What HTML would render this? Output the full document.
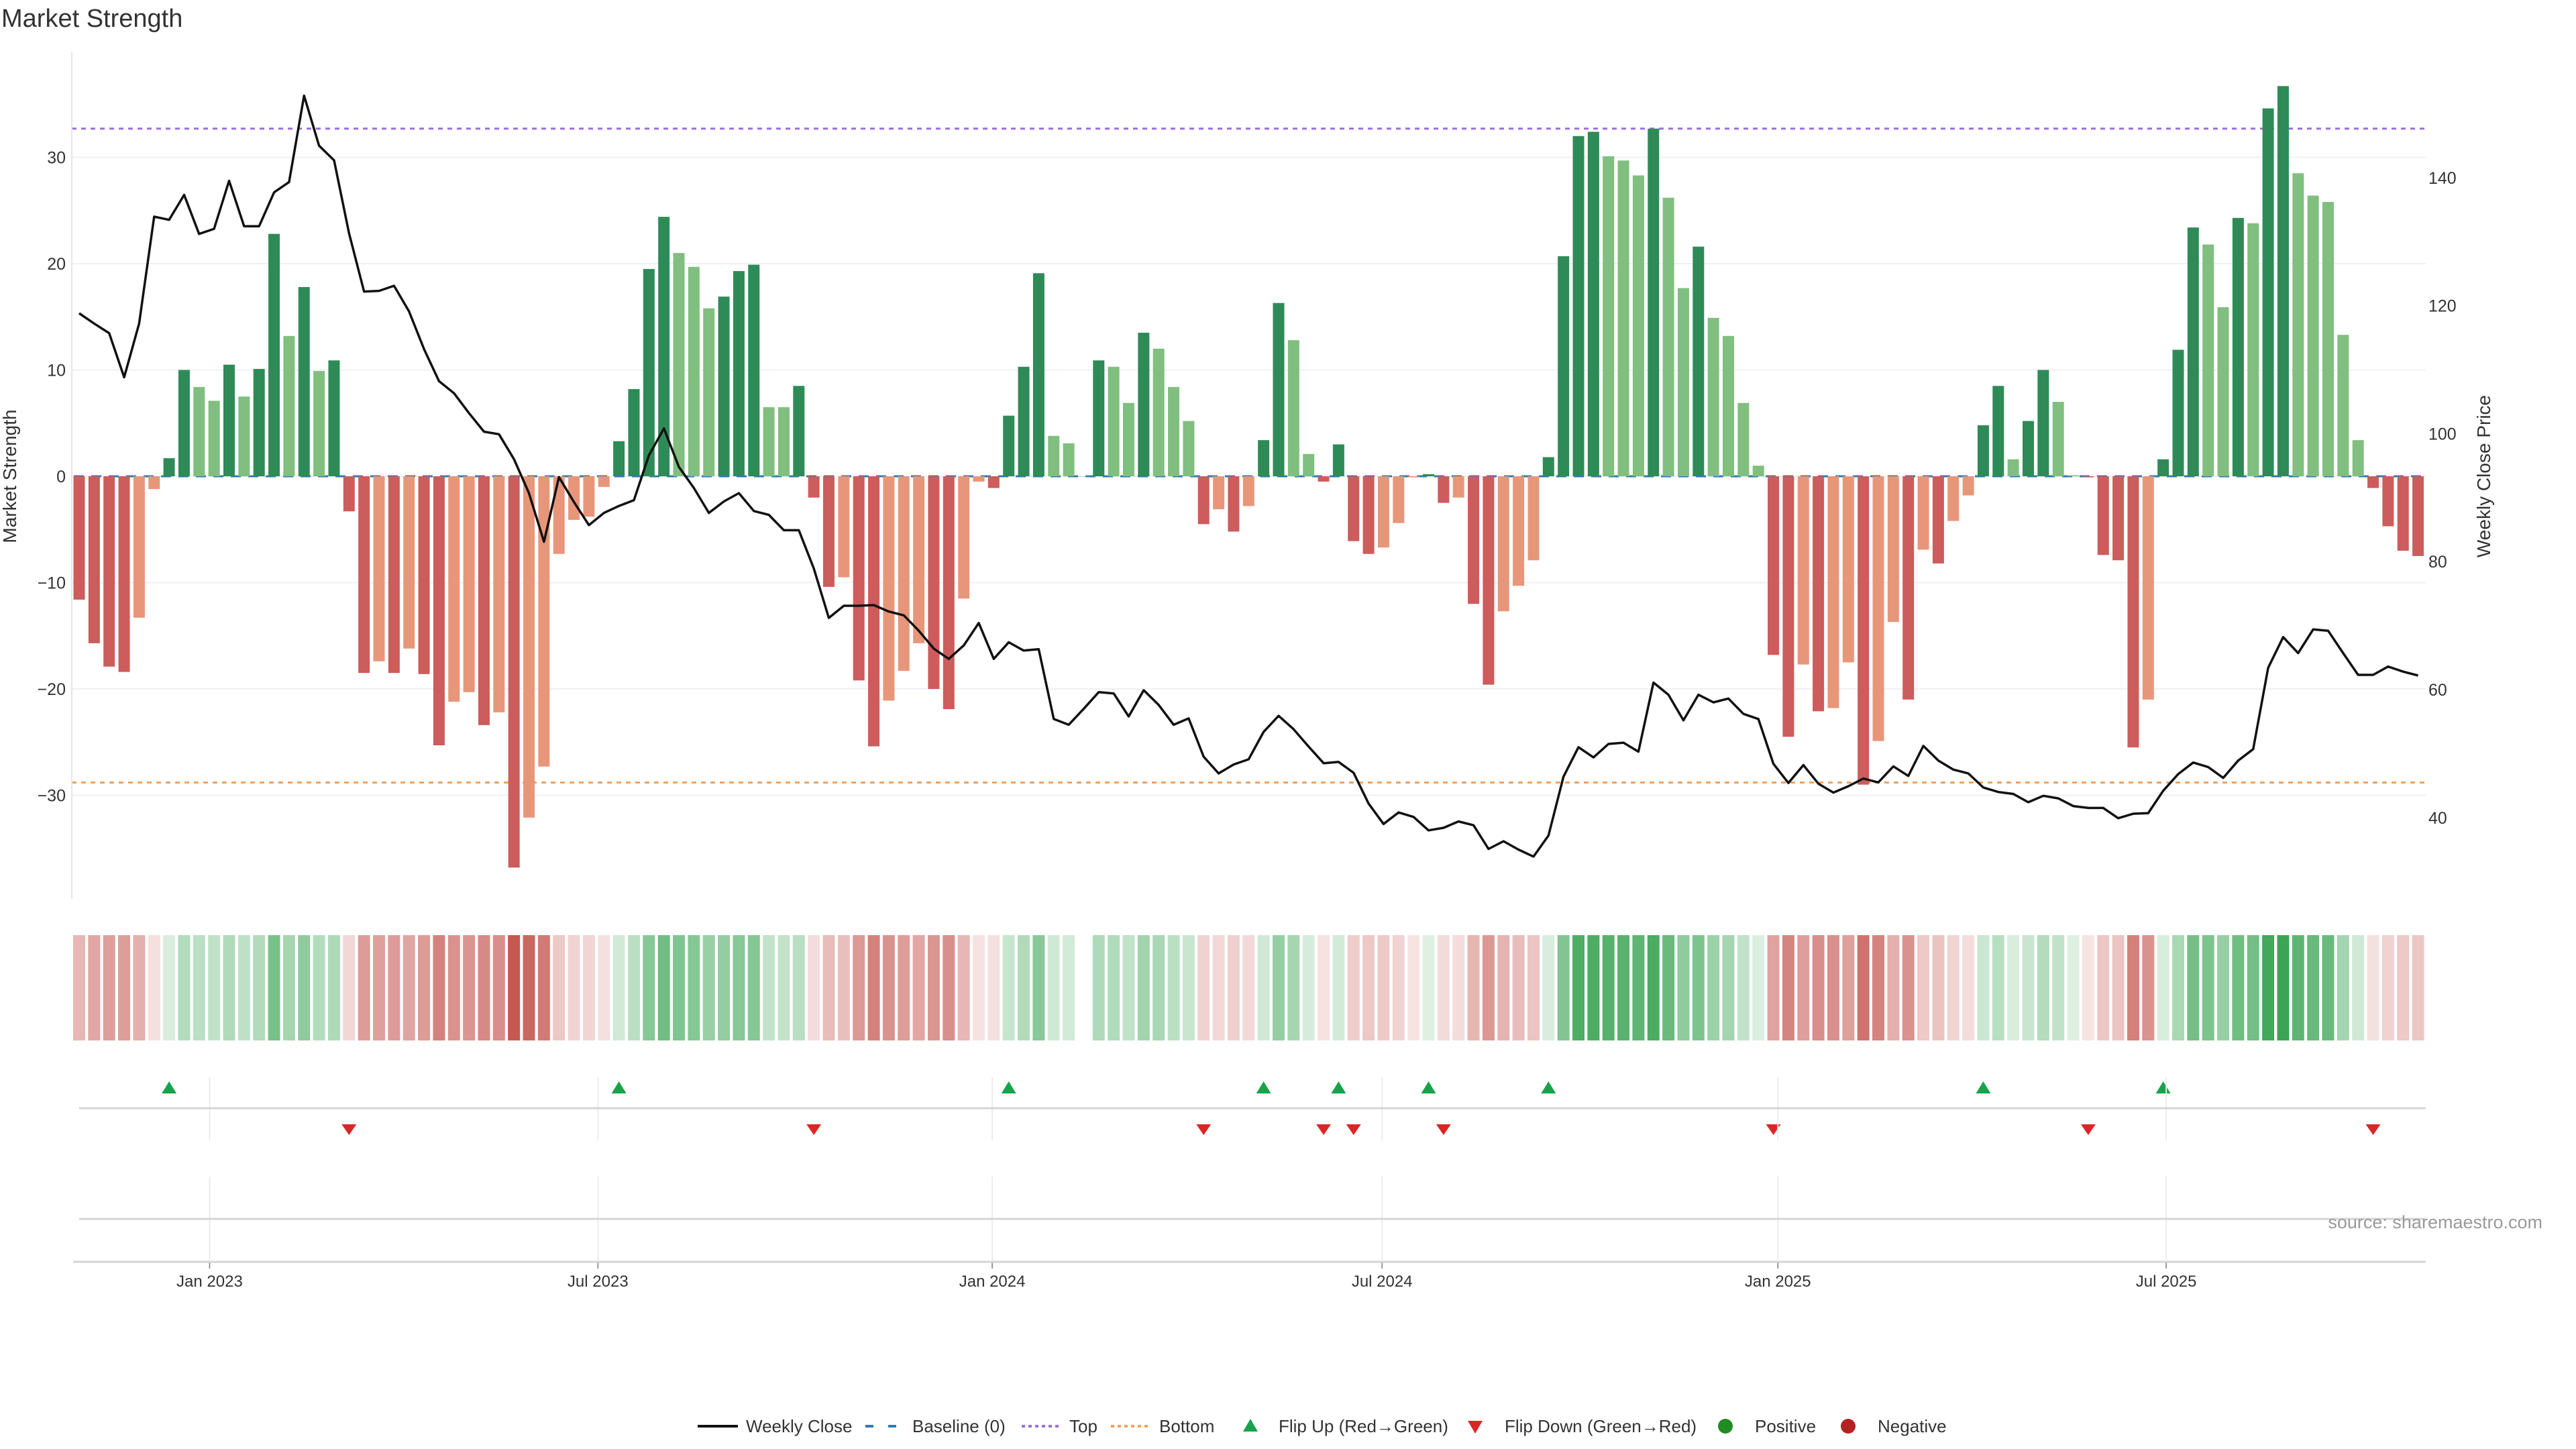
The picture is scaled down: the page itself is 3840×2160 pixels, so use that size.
<!DOCTYPE html>
<html><head><meta charset="utf-8"><title>Market Strength</title>
<style>
html,body{margin:0;padding:0;background:#fff;}
svg{display:block;font-family:"Liberation Sans","DejaVu Sans",sans-serif;}
</style></head>
<body>
<svg id="chart" width="3840" height="2160" viewBox="0 0 3840 2160" xmlns="http://www.w3.org/2000/svg">
<rect width="3840" height="2160" fill="#fff"/>
<text x="2" y="40" font-size="38" fill="#333">Market Strength</text>
<g id="grid"></g><g id="refs"></g><g id="bars"></g><g id="price"></g><g id="strip"></g><g id="flips"></g><g id="axes"></g>
<text transform="translate(24,710) rotate(-90)" text-anchor="middle" font-size="28" fill="#333">Market Strength</text>
<text transform="translate(3712,710) rotate(-90)" text-anchor="middle" font-size="28" fill="#333">Weekly Close Price</text>
<text x="3790" y="1831" text-anchor="end" font-size="27" fill="#9a9a9a">source: sharemaestro.com</text>
<g id="legend"></g>
</svg>
<script>
const strength = [-11.6,-15.7,-17.9,-18.4,-13.3,-1.2,1.7,10.0,8.4,7.1,10.5,7.5,10.1,22.8,13.2,17.8,9.9,10.9,-3.3,-18.5,
-17.4,-18.5,-16.2,-18.6,-25.3,-21.2,-20.3,-23.4,-22.2,-36.8,-32.1,-27.3,-7.3,-4.1,-3.8,-1.0,3.3,8.2,19.5,24.4,
21.0,19.7,15.8,16.9,19.3,19.9,6.5,6.5,8.5,-2.0,-10.4,-9.5,-19.2,-25.4,-21.1,-18.3,-15.7,-20.0,-21.9,-11.5,
-0.5,-1.1,5.7,10.3,19.1,3.8,3.1,0.0,10.9,10.3,6.9,13.5,12.0,8.4,5.2,-4.5,-3.1,-5.2,-2.8,3.4,
16.3,12.8,2.1,-0.5,3.0,-6.1,-7.3,-6.7,-4.4,-0.1,0.2,-2.5,-2.0,-12.0,-19.6,-12.7,-10.3,-7.9,1.8,20.7,
32.0,32.4,30.1,29.7,28.3,32.7,26.2,17.7,21.6,14.9,13.2,6.9,1.0,-16.8,-24.5,-17.7,-22.1,-21.8,-17.5,-29.0,
-24.9,-13.7,-21.0,-6.9,-8.2,-4.2,-1.8,4.8,8.5,1.6,5.2,10.0,7.0,0.1,-0.1,-7.4,-7.9,-25.5,-21.0,1.6,
11.9,23.4,21.8,15.9,24.3,23.8,34.6,36.7,28.5,26.4,25.8,13.3,3.4,-1.1,-4.7,-7.0,-7.5];
const closes = [118.8,117.2,115.7,108.8,117.2,133.9,133.4,137.3,131.2,132.0,139.5,132.4,132.4,137.7,139.3,152.8,145.0,142.7,131.3,122.2,
122.3,123.1,119.1,113.2,108.2,106.3,103.2,100.3,99.9,96.0,90.7,83.1,93.2,89.3,85.7,87.6,88.7,89.6,96.6,100.8,
94.8,91.5,87.6,89.4,90.7,87.9,87.3,84.9,84.9,78.9,71.2,73.1,73.1,73.2,72.2,71.6,69.2,66.4,64.8,66.9,
70.4,64.8,67.4,66.1,66.3,55.4,54.5,57.0,59.6,59.4,55.8,59.9,57.6,54.5,55.5,49.5,46.9,48.3,49.1,53.4,
55.9,53.8,51.1,48.5,48.7,47.0,42.2,39.0,40.8,40.1,38.0,38.4,39.4,38.8,35.1,36.3,35.0,33.9,37.2,46.4,
51.0,49.4,51.5,51.7,50.3,61.1,59.2,55.2,59.2,58.0,58.6,56.2,55.4,48.4,45.4,48.2,45.3,43.9,44.9,46.1,
45.5,48.0,46.5,51.2,48.9,47.5,46.9,44.7,44.0,43.7,42.4,43.4,43.0,41.8,41.5,41.5,39.9,40.6,40.7,44.2,
46.8,48.6,47.9,46.2,48.9,50.7,63.4,68.2,65.7,69.4,69.2,65.7,62.3,62.3,63.6,62.8,62.2];
const yTicks = [-30,-20,-10,0,10,20,30];
const priceTicks = [40,60,80,100,120,140];
const xTickLabels = ["Jan 2023","Jul 2023","Jan 2024","Jul 2024","Jan 2025","Jul 2025"];
const xTickWeeks = [8.7,34.6,60.9,86.9,113.3,139.2];
const topLevel = [32.7];
const bottomLevel = [-28.8];

const NS="http://www.w3.org/2000/svg";
function mk(tag,attrs,parent){const e=document.createElementNS(NS,tag);for(const k in attrs)e.setAttribute(k,attrs[k]);parent.appendChild(e);return e;}
const X0=118, DX=22.35, PL=107, PR=3616;
const xs=i=>X0+i*DX;
const ys=v=>710-v*15.85;
const yp=p=>1218.75-(p-40)*9.54;
const g=id=>document.getElementById(id);

yTicks.forEach(t=>{
  const l=mk('line',{x1:PL,x2:PR,y1:ys(t),y2:ys(t),stroke:'#eef0f4','stroke-width':2},g('grid'));
  
  
  const tx=mk('text',{x:98,y:ys(t)+9,'text-anchor':'end','font-size':25,fill:'#333'},g('axes'));
  tx.textContent=(t<0?'\u2212'+Math.abs(t):String(t));
  
  
});
priceTicks.forEach(t=>{
  const tx=mk('text',{x:3620,y:yp(t)+9,'font-size':25,fill:'#333'},g('axes'));
  tx.textContent=String(t);
  
  
});
const ax=mk('line',{x1:PL,x2:PL,y1:78,y2:1340,stroke:'#e6e6e6','stroke-width':2},g('axes'));



const tl=mk('line',{x1:PL,x2:PR,y1:ys(topLevel[0]),y2:ys(topLevel[0]),stroke:'#9b6fdc','stroke-width':3,'stroke-dasharray':'7 7'},g('refs'));


const bl=mk('line',{x1:PL,x2:PR,y1:ys(bottomLevel[0]),y2:ys(bottomLevel[0]),stroke:'#f0a35e','stroke-width':3,'stroke-dasharray':'7 7'},g('refs'));


const bsl=mk('line',{x1:xs(0)-8,x2:xs(strength.length-1)+8,y1:ys(0),y2:ys(0),stroke:'#2f7bb0','stroke-width':3,'stroke-dasharray':'15 11'},g('refs'));



strength.forEach((v,i)=>{
  const prev=i>0?strength[i-1]:(v>=0?-1e9:1e9);
  let c;
  if(v>=0) c=(v>prev)?'#2e8b57':'#80bf7f';
  else c=(v<prev)?'#cd5c5c':'#e8967a';
  const y=Math.min(ys(0),ys(v)), h=Math.abs(ys(v)-ys(0));
  const r=mk('rect',{x:xs(i)-8.5,y:y,width:17,height:Math.max(h,0.5),fill:c},g('bars'));
  
  
});

const pl=mk('polyline',{points:closes.map((p,i)=>xs(i).toFixed(1)+','+yp(p).toFixed(1)).join(' '),fill:'none',stroke:'#111','stroke-width':3.5,'stroke-linejoin':'round'},g('price'));



strength.forEach((v,i)=>{
  const a=Math.abs(v);
  if(a===0) return;
  const t=Math.min(1,0.16+a/36*0.84);
  const base=v>=0?[60,165,85]:[198,88,82];
  const col='rgb('+base.map(b=>Math.round(255-(255-b)*t)).join(',')+')';
  const r=mk('rect',{x:xs(i)-9,y:1394,width:18,height:157,fill:col},g('strip'));
  
  
});

xTickWeeks.forEach((w,k)=>{
  const x=xs(w);
  const v1=mk('line',{x1:x,x2:x,y1:1606,y2:1700,stroke:'#ececec','stroke-width':2},g('axes'));
  
  
  const v2=mk('line',{x1:x,x2:x,y1:1754,y2:1890,stroke:'#ececec','stroke-width':2},g('axes'));
  
  
  const tk=mk('line',{x1:x,x2:x,y1:1881,y2:1891,stroke:'#999','stroke-width':2},g('axes'));
  
  
  const tx=mk('text',{x:x,y:1918,'text-anchor':'middle','font-size':24,fill:'#333'},g('axes'));
  tx.textContent=xTickLabels[k];
  
  
});
const h1=mk('line',{x1:118,x2:PR,y1:1652,y2:1652,stroke:'#d4d4d4','stroke-width':3},g('axes'));


const h2=mk('line',{x1:118,x2:PR,y1:1817,y2:1817,stroke:'#d4d4d4','stroke-width':3},g('axes'));


const h3=mk('line',{x1:109,x2:PR,y1:1881,y2:1881,stroke:'#d4d4d4','stroke-width':3},g('axes'));



let lastSign=Math.sign(strength[0]);
for(let i=1;i<strength.length;i++){
  const v=strength[i];
  if(v===0) continue;
  const s=Math.sign(v);
  if(s>0 && lastSign<0){
    const x=xs(i);
    const t=mk('polygon',{points:(x-11)+',1630 '+(x+11)+',1630 '+x+',1612',fill:'#16a34a'},g('flips'));
    
    
  } else if(s<0 && lastSign>0){
    const x=xs(i);
    const t=mk('polygon',{points:(x-11)+',1676 '+(x+11)+',1676 '+x+',1692',fill:'#dc2626'},g('flips'));
    
    
  }
  lastSign=s;
}

const L=g('legend'), LY=2126;
function ltext(x,s,name){const t=mk('text',{x:x,y:LY+9,'font-size':26,fill:'#333'},L);t.textContent=s;}
let e;
e=mk('line',{x1:1040,x2:1100,y1:LY,y2:LY,stroke:'#111','stroke-width':4},L);


ltext(1112,'Weekly Close','legend-weekly-close');
e=mk('line',{x1:1290,x2:1344,y1:LY,y2:LY,stroke:'#2f7bb0','stroke-width':4,'stroke-dasharray':'12 22'},L);


ltext(1360,'Baseline (0)','legend-baseline');
e=mk('line',{x1:1523,x2:1579,y1:LY,y2:LY,stroke:'#9b6fdc','stroke-width':4,'stroke-dasharray':'5 5'},L);


ltext(1594,'Top','legend-top');
e=mk('line',{x1:1656,x2:1711,y1:LY,y2:LY,stroke:'#f0a35e','stroke-width':4,'stroke-dasharray':'5 5'},L);


ltext(1728,'Bottom','legend-bottom');
e=mk('polygon',{points:'1853,2134 1875,2134 1864,2115',fill:'#16a34a'},L);


ltext(1906,'Flip Up (Red\u2192Green)','legend-flip-up');
e=mk('polygon',{points:'2188,2118 2210,2118 2199,2137',fill:'#dc2626'},L);


ltext(2243,'Flip Down (Green\u2192Red)','legend-flip-down');
e=mk('circle',{cx:2572,cy:LY,r:11,fill:'#228b22'},L);


ltext(2616,'Positive','legend-positive');
e=mk('circle',{cx:2755,cy:LY,r:11,fill:'#b22222'},L);


ltext(2799,'Negative','legend-negative');
</script>
</body></html>
